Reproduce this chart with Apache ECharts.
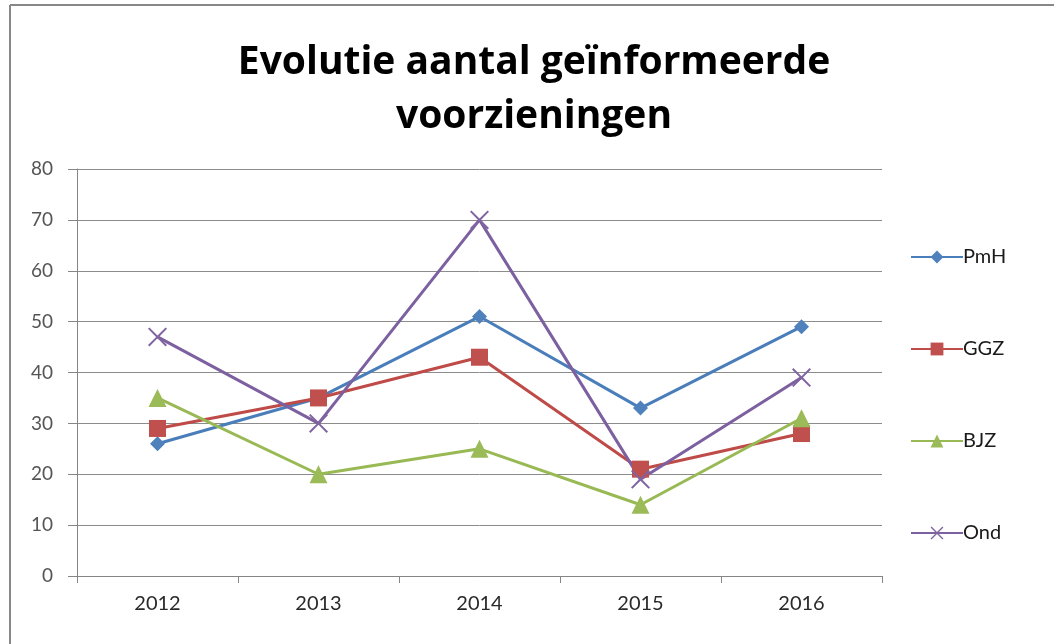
<!DOCTYPE html>
<html>
<head>
<meta charset="utf-8">
<title>Evolutie aantal geïnformeerde voorzieningen</title>
<script src="https://cdn.jsdelivr.net/npm/echarts@6/dist/echarts.min.js"></script>
<style>
  html, body { margin: 0; padding: 0; background: #fff; }
  #chart { width: 1054px; height: 644px; }
</style>
</head>
<body>
<div id="chart"></div>
<script>
const years = ['2012', '2013', '2014', '2015', '2016']
const pmh = [26, 35, 51, 33, 49]
const ggz = [29, 35, 43, 21, 28]
const bjz = [35, 20, 25, 14, 31]
const ond = [47, 30, 70, 19, 39]

const crossPath = 'path://M0,1.5L1.5,0L10,8.5L18.5,0L20,1.5L11.5,10L20,18.5L18.5,20L10,11.5L1.5,20L0,18.5L8.5,10Z'
const labelFont = 'Lato, "Open Sans", sans-serif'

function makeSeries(name, data, lineColor, markColor, symbol, size) {
  return {
    name: name,
    type: 'line',
    data: data,
    symbol: symbol,
    symbolSize: size,
    showAllSymbol: true,
    lineStyle: { color: lineColor, width: 3 },
    itemStyle: { color: markColor },
    emphasis: { disabled: true },
    animation: false
  }
}

const chart = echarts.init(document.getElementById('chart'))
chart.setOption({
  backgroundColor: '#fff',
  title: {
    text: 'Evolutie aantal geïnformeerde\nvoorzieningen',
    left: 529,
    textAlign: 'center',
    top: 31,
    textStyle: {
      fontFamily: '"Open Sans", sans-serif',
      fontWeight: 'bold',
      fontSize: 39,
      lineHeight: 54,
      color: '#000'
    }
  },
  graphic: [
    { type: 'line', shape: { x1: 10, y1: 5, x2: 1054, y2: 5 }, style: { stroke: '#888', lineWidth: 2 } },
    { type: 'line', shape: { x1: 10, y1: 5, x2: 10, y2: 644 }, style: { stroke: '#888', lineWidth: 2 } }
  ],
  legend: {
    orient: 'vertical',
    left: 905,
    top: 242,
    itemWidth: 52,
    itemHeight: 16,
    itemGap: 72,
    textStyle: { fontFamily: labelFont, fontSize: 20, color: '#1a1a1a', padding: [0, 0, 0, -5] },
    data: ['PmH', 'GGZ', 'BJZ', 'Ond']
  },
  grid: { left: 77, right: 172, top: 169, bottom: 68 },
  xAxis: {
    type: 'category',
    data: years,
    boundaryGap: true,
    axisLine: { lineStyle: { color: '#868686', width: 1 } },
    axisTick: { show: true, length: 7, lineStyle: { color: '#868686' } },
    axisLabel: { fontFamily: labelFont, fontSize: 20, color: '#2a2a2a', margin: 18 }
  },
  yAxis: {
    type: 'value',
    min: 0,
    max: 80,
    interval: 10,
    axisLine: { show: true, lineStyle: { color: '#868686', width: 1 } },
    axisTick: { show: true, length: 9, lineStyle: { color: '#868686' } },
    axisLabel: { fontFamily: labelFont, fontSize: 19, color: '#555', margin: 24 },
    splitLine: { lineStyle: { color: '#8c8c8c', width: 1 } }
  },
  series: [
    makeSeries('PmH', pmh, '#4A7EBB', '#4F81BD', 'diamond', 15),
    makeSeries('GGZ', ggz, '#BE4B48', '#C0504D', 'rect', 17),
    makeSeries('BJZ', bjz, '#98B954', '#9BBB59', 'triangle', 18),
    makeSeries('Ond', ond, '#7D60A0', '#8064A2', crossPath, 19)
  ]
})
</script>
</body>
</html>
